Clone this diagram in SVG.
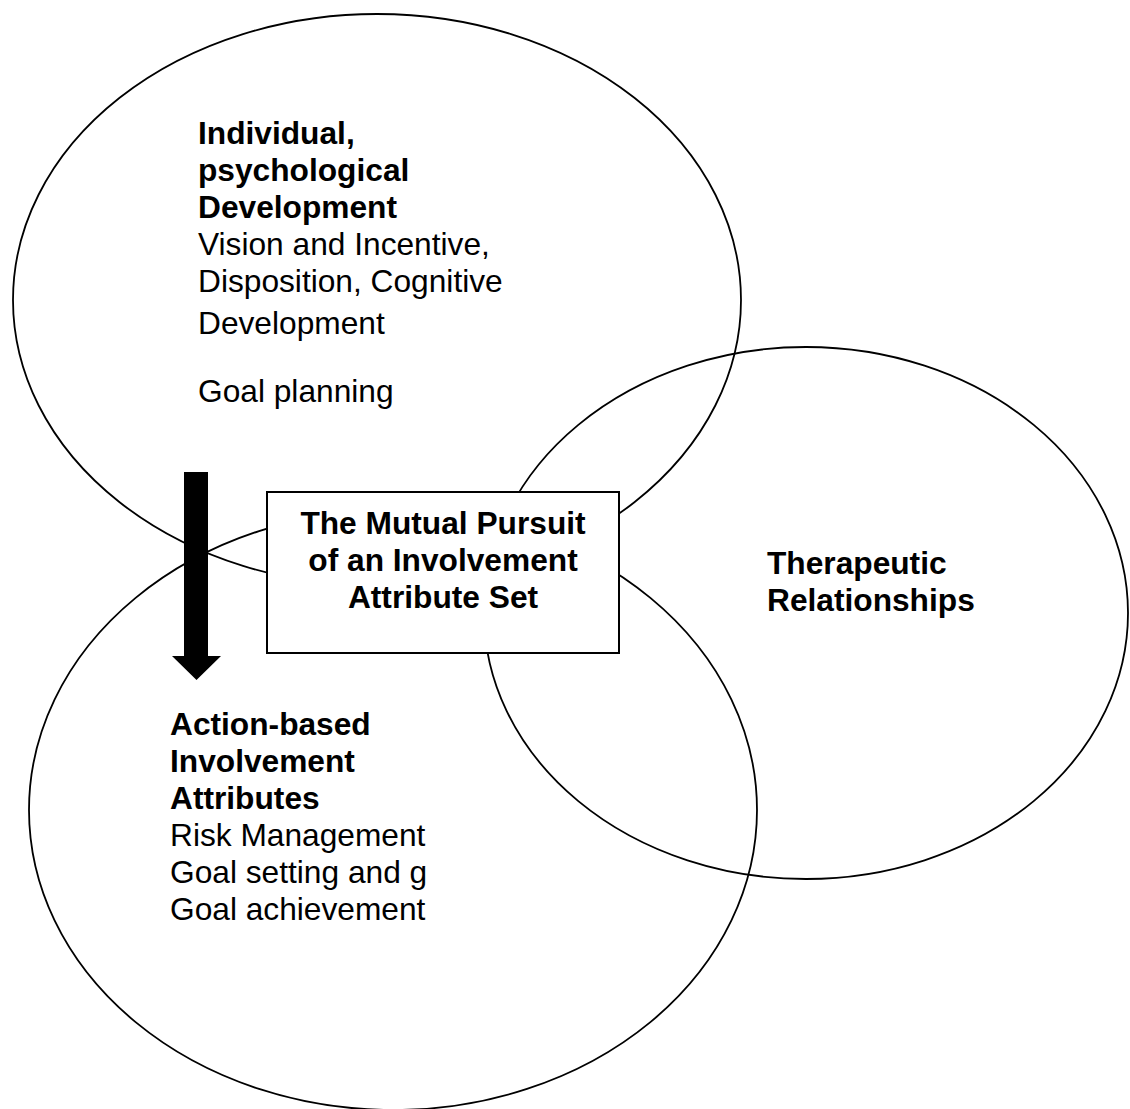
<svg xmlns="http://www.w3.org/2000/svg" width="1130" height="1109" viewBox="0 0 1130 1109">
<style>
.ell{fill:none;stroke:#000;stroke-width:1.8}
.t{font-family:"Liberation Sans",Arial,sans-serif;font-size:31.7px;fill:#000}
.b{font-weight:bold}
.box{fill:#fff;stroke:#000;stroke-width:2}
</style>
<rect width="1130" height="1109" fill="#fff"/>
<g id="node-individual">
<ellipse class="ell" cx="377" cy="300" rx="364" ry="286"/>
<text class="t" x="198"><tspan class="b" x="198" y="144">Individual,</tspan><tspan class="b" x="198" y="181">psychological</tspan><tspan class="b" x="198" y="218">Development</tspan><tspan x="198" y="255">Vision and Incentive,</tspan><tspan x="198" y="292">Disposition, Cognitive</tspan><tspan x="198" y="334">Development</tspan><tspan x="198" y="402">Goal planning</tspan></text>
</g>
<g id="node-therapeutic">
<ellipse class="ell" cx="806" cy="613" rx="322" ry="266"/>
<text class="t b" x="767"><tspan x="767" y="574">Therapeutic</tspan><tspan x="767" y="611">Relationships</tspan></text>
</g>
<g id="node-action">
<ellipse class="ell" cx="393" cy="810" rx="364" ry="300"/>
<text class="t" x="170"><tspan class="b" x="170" y="735">Action-based</tspan><tspan class="b" x="170" y="772">Involvement</tspan><tspan class="b" x="170" y="809">Attributes</tspan><tspan x="170" y="846">Risk Management</tspan><tspan x="170" y="883">Goal setting and g</tspan><tspan x="170" y="920">Goal achievement</tspan></text>
</g>
<g id="node-mutual">
<rect class="box" x="267" y="492" width="352" height="161"/>
<text class="t b" text-anchor="middle"><tspan x="443" y="534">The Mutual Pursuit</tspan><tspan x="443" y="571">of an Involvement</tspan><tspan x="443" y="608">Attribute Set</tspan></text>
</g>
<g id="connectors">
<path d="M184 472H208V656H221L196.5 680L172 656H184Z" fill="#000"/>
</g>
</svg>
